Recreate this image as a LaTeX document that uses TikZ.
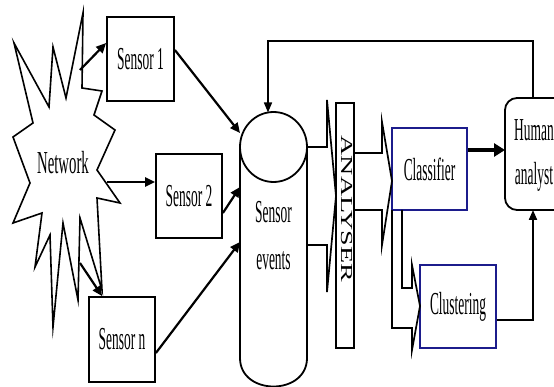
\documentclass[tikz,border=0pt]{standalone}
\usepackage{fontspec}
\setmainfont{Liberation Serif}
\newfontfamily\narrow[FakeStretch=0.42]{Liberation Serif}
\usetikzlibrary{arrows.meta}
\definecolor{navyb}{RGB}{28,28,140}
\begin{document}
\begin{tikzpicture}[x=1pt,y=-1pt,
  lbl/.style={font=\narrow\fontsize{32}{38}\selectfont, align=center, inner sep=0pt},
  box/.style={draw, line width=1.8pt, lbl},
  bluebox/.style={box, draw=navyb},
  conn/.style={line width=2.2pt, -{Triangle[length=10pt,width=9pt]}},
  thinconn/.style={line width=1.6pt, -{Triangle[length=10pt,width=8pt]}},
  fatconn/.style={line width=4pt, -{Triangle[length=11pt,width=13pt]}},
  hollow/.style={line width=1.7pt, line join=miter, miter limit=20},
]
\useasboundingbox (0,0) rectangle (554,387);
\fill[white] (0,0) rectangle (554,387);

% Network star
\draw[line width=1.6pt, line join=miter, miter limit=20]
  (33,123) -- (14,43) -- (49,107) -- (53,47) -- (66,98) -- (83,13) -- (82,88)
  -- (102,91) -- (94,115) -- (115,130) -- (97,170) -- (120,203) -- (97,198)
  -- (102,290) -- (80,218) -- (78,300) -- (63,223) -- (53,327) -- (50,235)
  -- (35,267) -- (42,213) -- (13,223) -- (30,183) -- (13,137) -- cycle;
\node[lbl] (net) at (63,163) {\scalebox{1.1}[1]{Network}};

% sensors
\node[box, minimum width=67pt, minimum height=84pt] (s1) at (140.5,59) {Sensor 1};
\node[box, minimum width=66pt, minimum height=84pt] (s2) at (189,196) {Sensor 2};
\node[box, minimum width=66pt, minimum height=85pt] (sn) at (122,339.5) {Sensor n};

% sensor events store
\draw[line width=1.8pt] (240,147) -- (240,358) .. controls (240,396) and (307,396) .. (307,358) -- (307,147);
\draw[line width=1.8pt] (273.5,147) ellipse [x radius=33.5pt, y radius=35pt];
\node[lbl, font=\narrow\fontsize{32}{47}\selectfont] (ev) at (273.5,236) {Sensor\\events};

\coordinate (n1) at (80,70);
\coordinate (n2) at (107,182);
\coordinate (n3) at (80,263);
\coordinate (c1) at (240,133);
\coordinate (c2) at (240,187);
\coordinate (c3) at (240,242);
\coordinate (ctop) at (268,112.5);
\coordinate (fb) at (268,41);

\draw[conn] (n1) -- ([yshift=16pt]s1.west);
\draw[conn] (n2) -- ([yshift=14pt]s2.west);
\draw[conn] (n3) -- ([xshift=14pt]sn.north west);
\draw[conn] ([yshift=9pt]s1.east) -- (c1);
\draw[conn] ([yshift=-17pt]s2.east) -- (c2);
\draw[conn] ([yshift=-13.5pt]sn.east) -- (c3);

% analyser
\node[draw, line width=1.8pt, minimum width=18pt, minimum height=245pt, inner sep=0pt] (an) at (345,225.5) {};
\node[rotate=-90, inner sep=0pt, font=\fontsize{28}{30}\selectfont] (antxt) at (346.5,209) {\scalebox{1}[0.6]{ANALYSER}};

% classifier, clustering
\node[bluebox, minimum width=75pt, minimum height=82pt] (clf) at (429.5,169) {Classifier};
\node[bluebox, minimum width=76pt, minimum height=83pt] (clu) at (458,306.5) {Clustering};

% human analyst (box runs past the right edge)
\draw[line width=1.8pt, rounded corners=12pt] (505,98) rectangle (566,210);
\node[lbl, font=\narrow\fontsize{32}{44}\selectfont] (hum) at (534,155) {Human\\analyst};
\coordinate (humN) at (533,98);
\coordinate (humS) at (533,210);
\coordinate (humW) at (505,150);

% hollow block arrows
\draw[hollow] (307,147) -- (327,147) -- (327,100) -- (336,196) -- (327,292) -- (327,245) -- (307,245);
\draw[hollow] (355,153) -- (382,153) -- (382,122) -- (392,181) -- (382,245) -- (382,210) -- (355,210);
\draw[hollow] (392,210) -- (392,328) -- (412,328) -- (412,350) -- (420,306) -- (412,265) -- (412,288) -- (402,288) -- (402,210);

% outputs
\draw[fatconn] ([yshift=19pt]clf.east) -- (humW);
\draw[thinconn, line width=2pt] ([yshift=-13.5pt]clu.east) -| (humS);
\draw[thinconn] (humN) |- (fb) -- (ctop);
\end{tikzpicture}
\end{document}
